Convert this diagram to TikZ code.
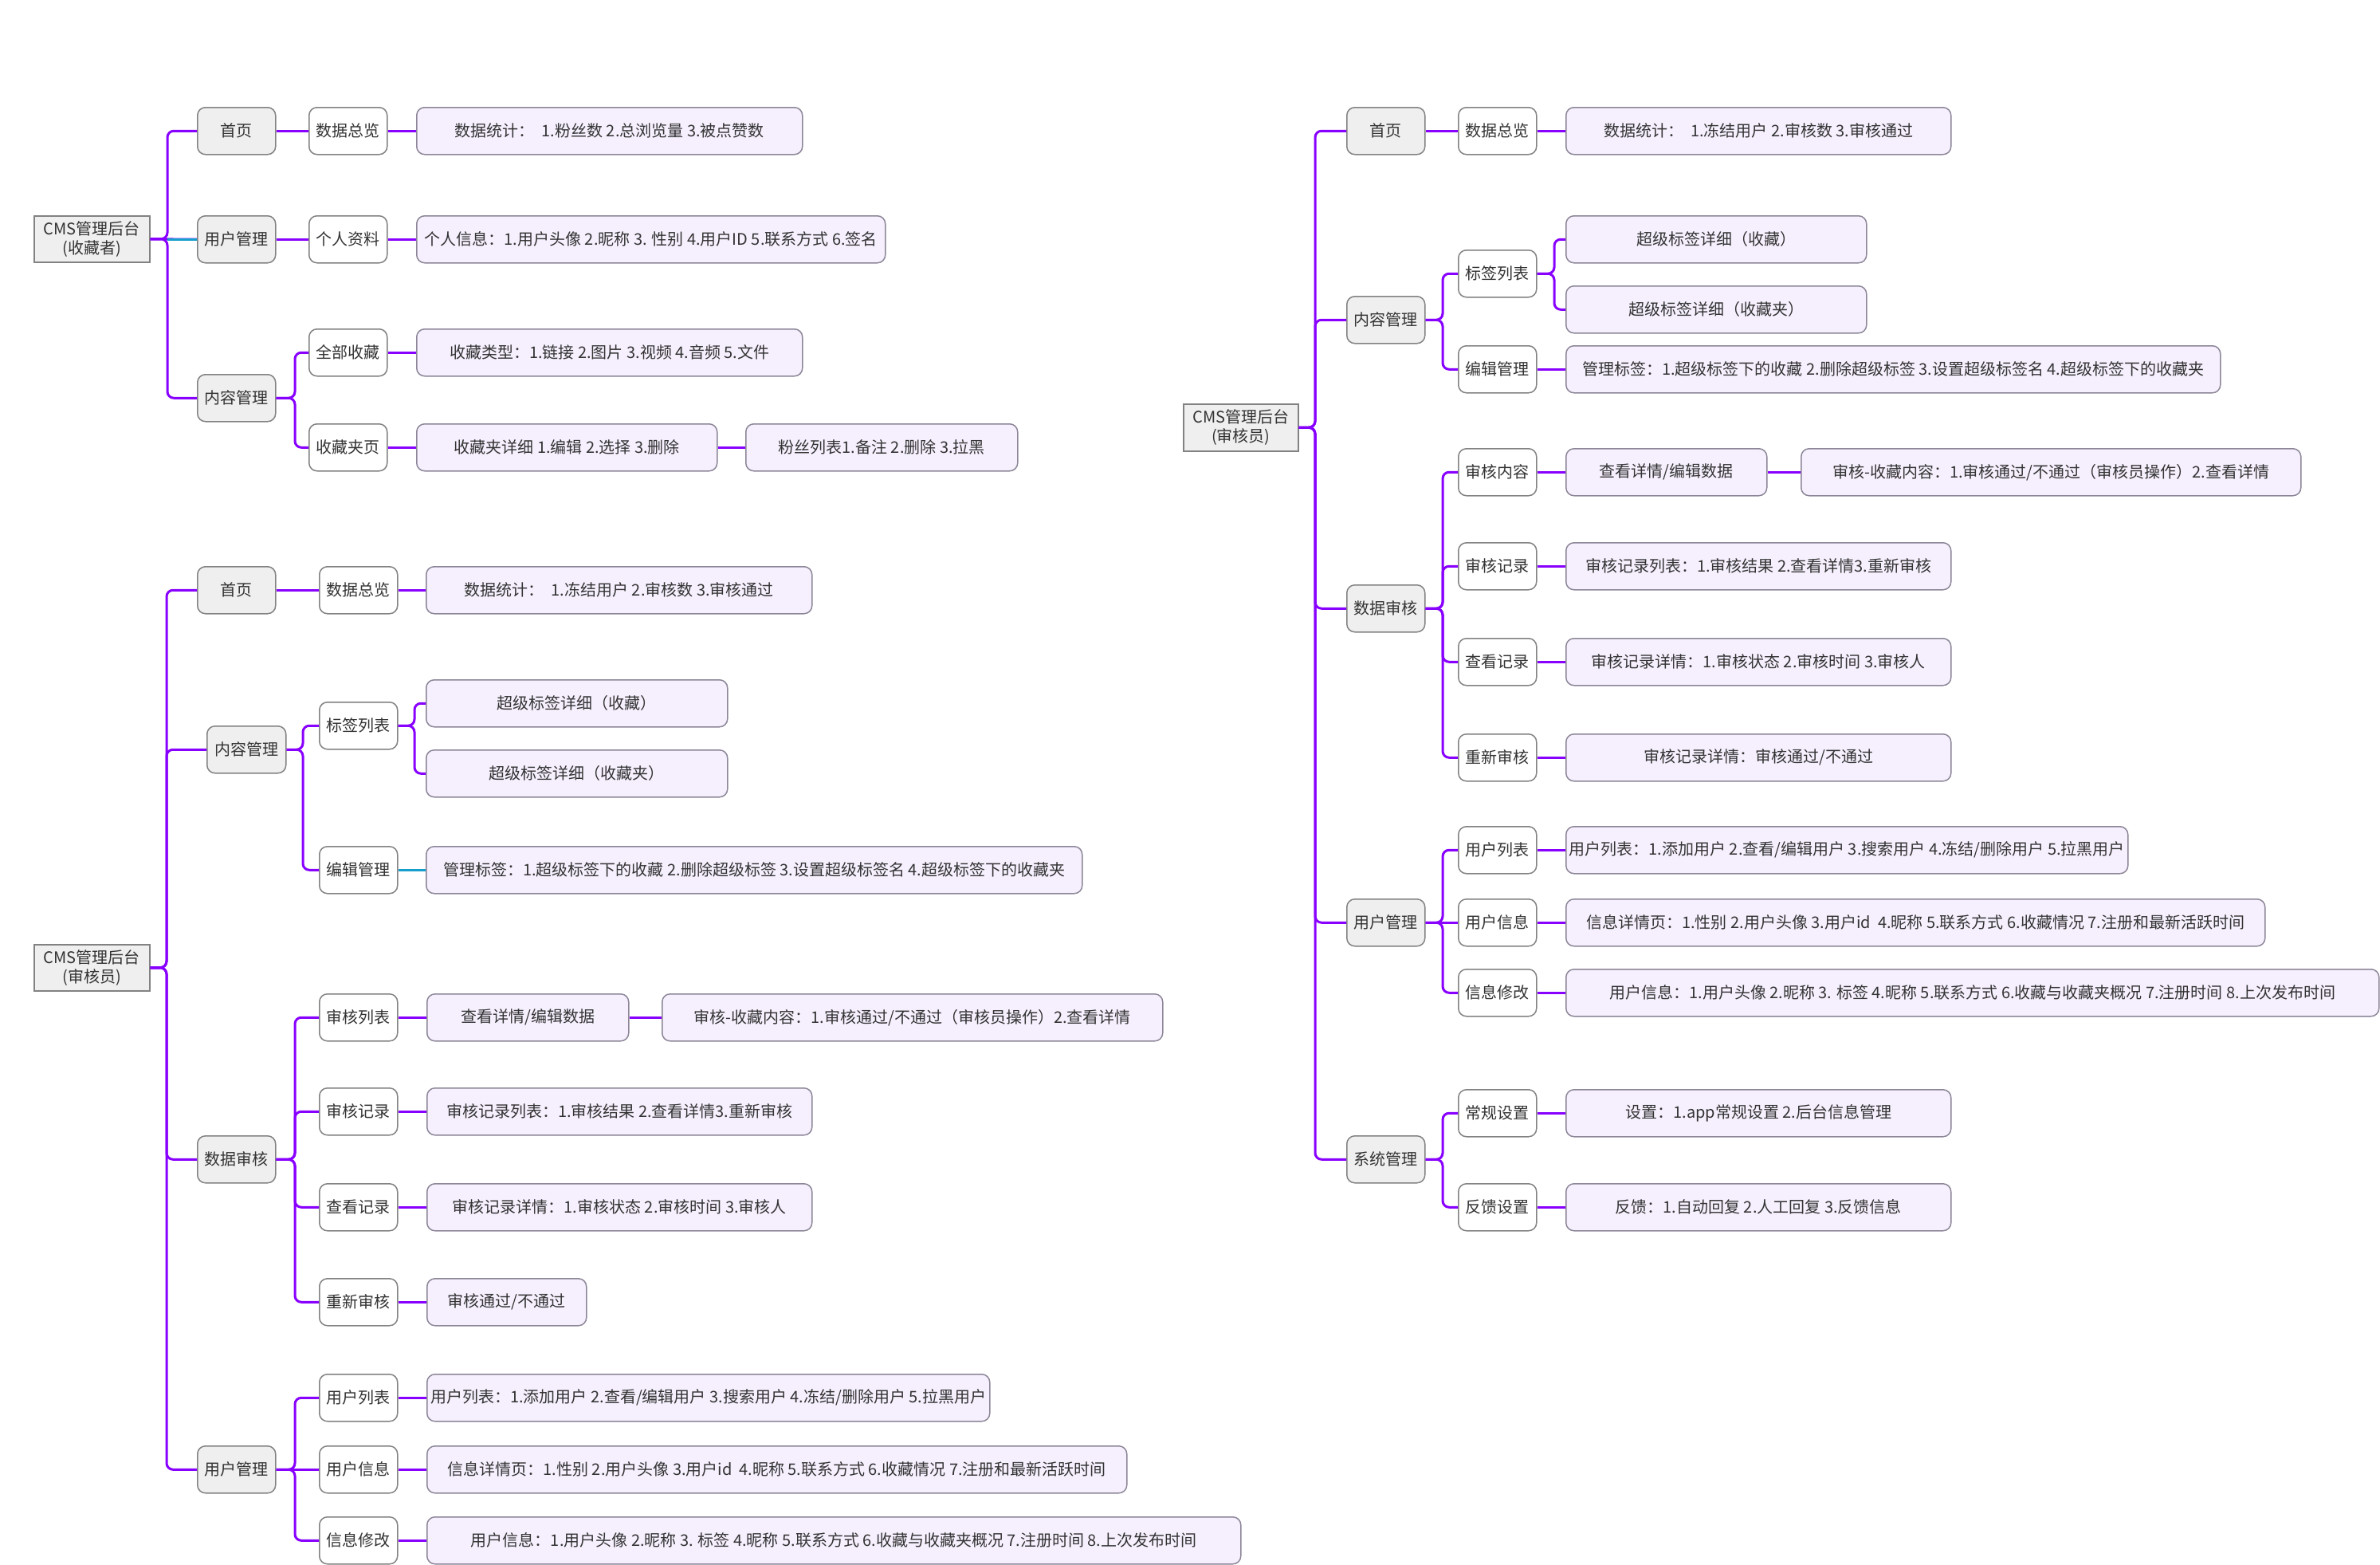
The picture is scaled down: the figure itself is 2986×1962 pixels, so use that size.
\documentclass[tikz,border=0pt]{standalone}
\usepackage{fontspec}
\setmainfont{Noto Sans CJK SC}
\definecolor{conncol}{RGB}{136,0,255}
\definecolor{cyancol}{RGB}{22,158,204}
\definecolor{grayfill}{RGB}{239,239,239}
\definecolor{lavfill}{RGB}{246,240,254}
\definecolor{bordercol}{RGB}{130,130,130}
\definecolor{lavborder}{RGB}{140,134,152}
\definecolor{textcol}{RGB}{51,51,51}
\newcommand\bx[7]{\node[#1,anchor=north west,minimum width=#5pt,minimum height=#6pt] (#2) at (#3,#4) {#7};}
\newcommand\cn[3]{\draw[conn] (#1.east) -- (#3,0 |- #1.east) |- (#2.west);}
\newcommand\sn[2]{\draw[conn] (#1.east) -- (#2.west);}
\begin{document}
\begin{tikzpicture}[x=1pt,y=-1pt,
  base/.style={font=\fontsize{20}{24}\selectfont, text=textcol, inner xsep=2pt, inner ysep=2pt, line width=1.5pt},
  rootbox/.style={base, draw=bordercol, fill=grayfill, align=center},
  lone/.style={base, draw=bordercol, fill=grayfill, rounded corners=10pt},
  ltwo/.style={base, draw=bordercol, fill=white, rounded corners=10pt},
  lthree/.style={base, draw=lavborder, fill=lavfill, rounded corners=10pt},
  conn/.style={draw=conncol, line width=3pt, rounded corners=8pt},
  cconn/.style={draw=cyancol, line width=3pt}]
\useasboundingbox (0,0) rectangle (2986,1962);
\fill[white] (0,0) rectangle (2986,1962);

% ---------------- Tree 1 ----------------
\bx{rootbox}{r1}{42}{270}{145}{58}{CMS管理后台\\(收藏者)}
\bx{lone}{a1}{247}{134}{98}{59}{首页}
\bx{ltwo}{a1a}{387}{134}{98}{59}{数据总览}
\bx{lthree}{a1b}{522}{134}{484}{59}{数据统计：~ 1.粉丝数 2.总浏览量 3.被点赞数}
\bx{lone}{a2}{247}{270}{98}{59}{用户管理}
\bx{ltwo}{a2a}{387}{270}{98}{59}{个人资料}
\bx{lthree}{a2b}{522}{270}{588}{59}{个人信息：1.用户头像 2.昵称 3. 性别 4.用户ID 5.联系方式 6.签名}
\bx{lone}{a3}{247}{469}{98}{59}{内容管理}
\bx{ltwo}{a3a}{387}{412}{98}{59}{全部收藏}
\bx{lthree}{a3b}{522}{412}{484}{59}{收藏类型：1.链接 2.图片 3.视频 4.音频 5.文件}
\bx{ltwo}{a3c}{387}{531}{98}{59}{收藏夹页}
\bx{lthree}{a3d}{522}{531}{377}{59}{收藏夹详细 1.编辑 2.选择 3.删除}
\bx{lthree}{a3e}{935}{531}{341}{59}{粉丝列表1.备注 2.删除 3.拉黑}

\cn{r1}{a1}{210}
\cn{r1}{a3}{210}
\sn{r1}{a2}
\draw[cconn] (210,0 |- a2.west) -- (a2.west);
\sn{a1}{a1a}\sn{a1a}{a1b}
\sn{a2}{a2a}\sn{a2a}{a2b}
\cn{a3}{a3a}{370}
\cn{a3}{a3c}{370}
\sn{a3a}{a3b}
\sn{a3c}{a3d}\sn{a3d}{a3e}

% ---------------- Tree 2 ----------------
\bx{rootbox}{r2}{42}{1184}{145}{58}{CMS管理后台\\(审核员)}
\bx{lone}{b1}{247}{710}{98}{59}{首页}
\bx{ltwo}{b1a}{400}{710}{98}{59}{数据总览}
\bx{lthree}{b1b}{534}{710}{484}{59}{数据统计：~ 1.冻结用户 2.审核数 3.审核通过}
\bx{lone}{b2}{259}{910}{99}{59}{内容管理}
\bx{ltwo}{b2a}{400}{880}{98}{59}{标签列表}
\bx{lthree}{b2b}{534}{852}{378}{59}{超级标签详细（收藏）}
\bx{lthree}{b2c}{534}{940}{378}{59}{超级标签详细（收藏夹）}
\bx{ltwo}{b2d}{400}{1061}{98}{59}{编辑管理}
\bx{lthree}{b2e}{534}{1061}{823}{59}{管理标签：1.超级标签下的收藏 2.删除超级标签 3.设置超级标签名 4.超级标签下的收藏夹}
\bx{lone}{b3}{247}{1424}{98}{59}{数据审核}
\bx{ltwo}{b3a}{400}{1246}{98}{59}{审核列表}
\bx{lthree}{b3b}{535}{1246}{253}{59}{查看详情/编辑数据}
\bx{lthree}{b3c}{830}{1246}{628}{59}{审核-收藏内容：1.审核通过/不通过（审核员操作）2.查看详情}
\bx{ltwo}{b3d}{400}{1364}{98}{59}{审核记录}
\bx{lthree}{b3e}{535}{1364}{483}{59}{审核记录列表：1.审核结果 2.查看详情3.重新审核}
\bx{ltwo}{b3f}{400}{1484}{98}{59}{查看记录}
\bx{lthree}{b3g}{535}{1484}{483}{59}{审核记录详情：1.审核状态 2.审核时间 3.审核人}
\bx{ltwo}{b3h}{400}{1603}{98}{59}{重新审核}
\bx{lthree}{b3i}{535}{1603}{200}{59}{审核通过/不通过}
\bx{lone}{b4}{247}{1813}{98}{59}{用户管理}
\bx{ltwo}{b4a}{400}{1723}{98}{59}{用户列表}
\bx{lthree}{b4b}{535}{1723}{706}{59}{用户列表：1.添加用户 2.查看/编辑用户 3.搜索用户 4.冻结/删除用户 5.拉黑用户}
\bx{ltwo}{b4c}{400}{1813}{98}{59}{用户信息}
\bx{lthree}{b4d}{535}{1813}{878}{59}{信息详情页：1.性别 2.用户头像 3.用户id~ 4.昵称 5.联系方式 6.收藏情况 7.注册和最新活跃时间}
\bx{ltwo}{b4e}{400}{1902}{98}{59}{信息修改}
\bx{lthree}{b4f}{535}{1902}{1021}{59}{用户信息：1.用户头像 2.昵称 3. 标签 4.昵称 5.联系方式 6.收藏与收藏夹概况 7.注册时间 8.上次发布时间}

\cn{r2}{b1}{209}
\cn{r2}{b2}{209}
\cn{r2}{b3}{209}
\cn{r2}{b4}{209}
\sn{b1}{b1a}\sn{b1a}{b1b}
\cn{b2}{b2a}{380}
\cn{b2}{b2d}{380}
\cn{b2a}{b2b}{520}
\cn{b2a}{b2c}{520}
\draw[cconn] (b2d.east) -- (b2e.west);
\cn{b3}{b3a}{370}\cn{b3}{b3d}{370}\cn{b3}{b3f}{370}\cn{b3}{b3h}{370}
\sn{b3a}{b3b}\sn{b3b}{b3c}
\sn{b3d}{b3e}\sn{b3f}{b3g}\sn{b3h}{b3i}
\cn{b4}{b4a}{370}\cn{b4}{b4e}{370}\sn{b4}{b4c}
\sn{b4a}{b4b}\sn{b4c}{b4d}\sn{b4e}{b4f}

% ---------------- Tree 3 ----------------
\bx{rootbox}{r3}{1484}{506}{144}{59}{CMS管理后台\\(审核员)}
\bx{lone}{c1}{1689}{134}{98}{59}{首页}
\bx{ltwo}{c1a}{1829}{134}{98}{59}{数据总览}
\bx{lthree}{c1b}{1964}{134}{483}{59}{数据统计：~ 1.冻结用户 2.审核数 3.审核通过}
\bx{lone}{c2}{1689}{371}{98}{59}{内容管理}
\bx{ltwo}{c2a}{1829}{313}{98}{59}{标签列表}
\bx{lthree}{c2b}{1964}{270}{377}{59}{超级标签详细（收藏）}
\bx{lthree}{c2c}{1964}{358}{377}{59}{超级标签详细（收藏夹）}
\bx{ltwo}{c2d}{1829}{433}{98}{59}{编辑管理}
\bx{lthree}{c2e}{1964}{433}{821}{59}{管理标签：1.超级标签下的收藏 2.删除超级标签 3.设置超级标签名 4.超级标签下的收藏夹}
\bx{lone}{c3}{1689}{733}{98}{59}{数据审核}
\bx{ltwo}{c3a}{1829}{562}{98}{59}{审核内容}
\bx{lthree}{c3b}{1964}{562}{252}{59}{查看详情/编辑数据}
\bx{lthree}{c3c}{2259}{562}{627}{59}{审核-收藏内容：1.审核通过/不通过（审核员操作）2.查看详情}
\bx{ltwo}{c3d}{1829}{680}{98}{59}{审核记录}
\bx{lthree}{c3e}{1964}{680}{483}{59}{审核记录列表：1.审核结果 2.查看详情3.重新审核}
\bx{ltwo}{c3f}{1829}{800}{98}{59}{查看记录}
\bx{lthree}{c3g}{1964}{800}{483}{59}{审核记录详情：1.审核状态 2.审核时间 3.审核人}
\bx{ltwo}{c3h}{1829}{920}{98}{59}{重新审核}
\bx{lthree}{c3i}{1964}{920}{483}{59}{审核记录详情：审核通过/不通过}
\bx{lone}{c4}{1689}{1127}{98}{59}{用户管理}
\bx{ltwo}{c4a}{1829}{1036}{98}{59}{用户列表}
\bx{lthree}{c4b}{1964}{1036}{705}{59}{用户列表：1.添加用户 2.查看/编辑用户 3.搜索用户 4.冻结/删除用户 5.拉黑用户}
\bx{ltwo}{c4c}{1829}{1127}{98}{59}{用户信息}
\bx{lthree}{c4d}{1964}{1127}{877}{59}{信息详情页：1.性别 2.用户头像 3.用户id~ 4.昵称 5.联系方式 6.收藏情况 7.注册和最新活跃时间}
\bx{ltwo}{c4e}{1829}{1215}{98}{59}{信息修改}
\bx{lthree}{c4f}{1964}{1215}{1020}{59}{用户信息：1.用户头像 2.昵称 3. 标签 4.昵称 5.联系方式 6.收藏与收藏夹概况 7.注册时间 8.上次发布时间}
\bx{lone}{c5}{1689}{1424}{98}{59}{系统管理}
\bx{ltwo}{c5a}{1829}{1366}{98}{59}{常规设置}
\bx{lthree}{c5b}{1964}{1366}{483}{59}{设置：1.app常规设置 2.后台信息管理}
\bx{ltwo}{c5c}{1829}{1484}{98}{59}{反馈设置}
\bx{lthree}{c5d}{1964}{1484}{483}{59}{反馈：1.自动回复 2.人工回复 3.反馈信息}

\cn{r3}{c1}{1650}\cn{r3}{c2}{1650}\cn{r3}{c3}{1650}\cn{r3}{c4}{1650}\cn{r3}{c5}{1650}
\sn{c1}{c1a}\sn{c1a}{c1b}
\cn{c2}{c2a}{1810}\cn{c2}{c2d}{1810}
\cn{c2a}{c2b}{1950}\cn{c2a}{c2c}{1950}
\sn{c2d}{c2e}
\cn{c3}{c3a}{1810}\cn{c3}{c3d}{1810}\cn{c3}{c3f}{1810}\cn{c3}{c3h}{1810}
\sn{c3a}{c3b}\sn{c3b}{c3c}
\sn{c3d}{c3e}\sn{c3f}{c3g}\sn{c3h}{c3i}
\cn{c4}{c4a}{1810}\cn{c4}{c4e}{1810}\sn{c4}{c4c}
\sn{c4a}{c4b}\sn{c4c}{c4d}\sn{c4e}{c4f}
\cn{c5}{c5a}{1810}\cn{c5}{c5c}{1810}
\sn{c5a}{c5b}\sn{c5c}{c5d}
\end{tikzpicture}
\end{document}
